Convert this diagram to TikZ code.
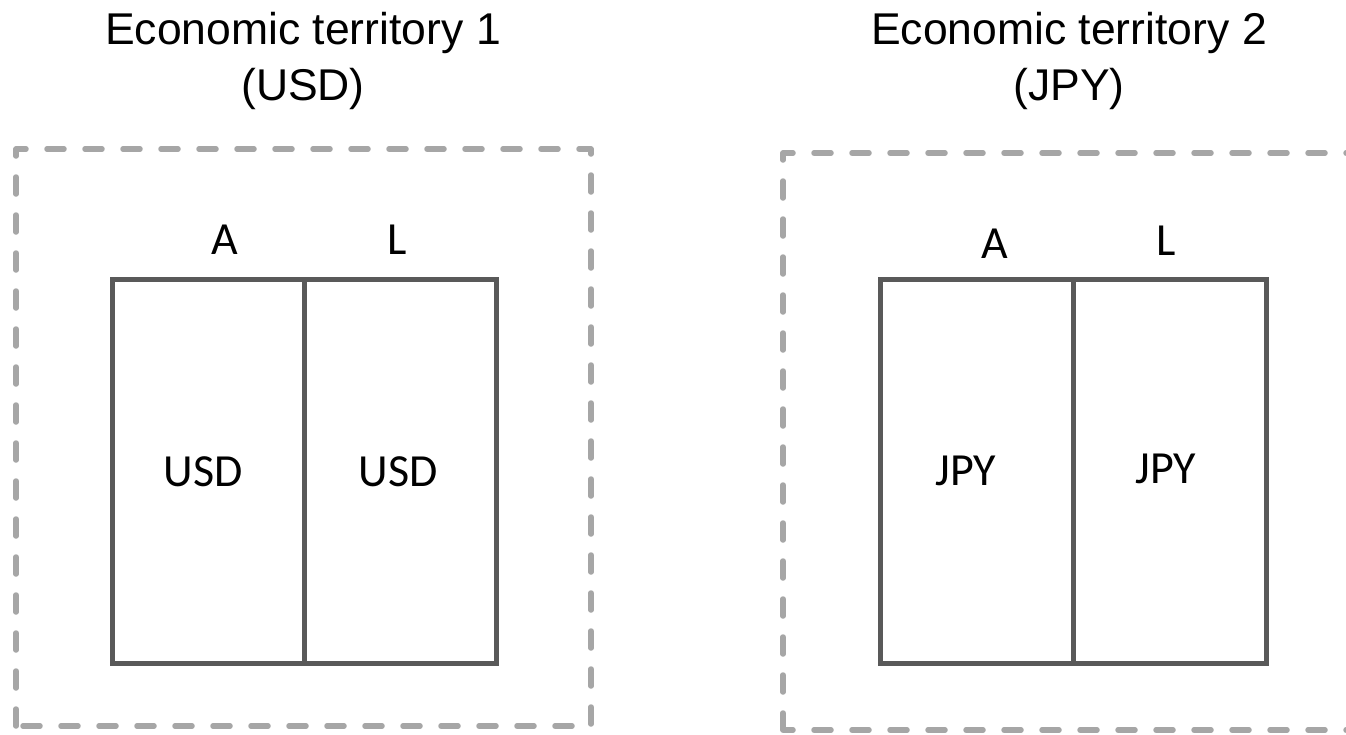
\documentclass[tikz,border=0pt]{standalone}
\usepackage{fontspec}
\setmainfont{Liberation Sans}
\newfontfamily\calib{Carlito}
\definecolor{boxgray}{HTML}{595959}
\definecolor{dashgray}{HTML}{A6A6A6}
\begin{document}
\begin{tikzpicture}[x=1pt,y=-1pt,
  territory/.style={draw=dashgray,line width=5.5pt,line cap=round,line join=round,dash pattern=on 17pt off 21pt},
  col/.style={draw=boxgray,line width=4.5pt,line join=miter,minimum width=192pt,minimum height=384pt,inner sep=0pt,anchor=north west},
  title/.style={font=\fontsize{44.5}{56}\selectfont,anchor=base,inner sep=0pt},
  lbl/.style={font=\calib\fontsize{46}{50}\selectfont,anchor=base,inner sep=0pt}]
\useasboundingbox (0,0) rectangle (1346,734);
% territories
\draw[territory] (16,726) -- (16,149) -- (591,149) -- (591,726) -- cycle;
\draw[territory] (783,730) -- (783,153) -- (1370,153) -- (1370,730) -- cycle;
% titles
\node[title] (t1a) at (303,44) {Economic territory 1};
\node[title] (t1b) at (303,100) {(USD)};
\node[title] (t2a) at (1069,44) {Economic territory 2};
\node[title] (t2b) at (1069,100) {(JPY)};
% balance sheets
\node[col] (a1) at (110,277) {};
\node[col] (l1) at (302,277) {};
\node[col,minimum width=193pt] (a2) at (878,277) {};
\node[col,minimum width=193pt] (l2) at (1071,277) {};
% labels
\node[lbl] (ha1) at (225,254) {A};
\node[lbl] (hl1) at (397,254) {L};
\node[lbl] (ha2) at (995,258) {A};
\node[lbl] (hl2) at (1166,255) {L};
\node[lbl] (ua1) at (203,486) {USD};
\node[lbl] (ul1) at (398,486) {USD};
\node[lbl] (ja2) at (966,485) {JPY};
\node[lbl] (jl2) at (1166,483) {JPY};
\end{tikzpicture}
\end{document}
